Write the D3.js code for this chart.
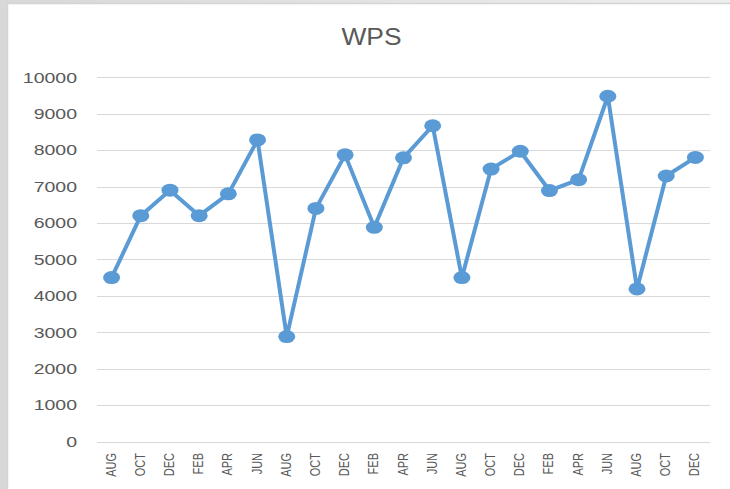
<!DOCTYPE html>
<html><head><meta charset="utf-8">
<script src="https://cdn.jsdelivr.net/npm/d3@7"></script>
<style>body{margin:0;background:#fff}svg{display:block}</style>
</head><body>
<script>
const categories = ["AUG","OCT","DEC","FEB","APR","JUN","AUG","OCT","DEC","FEB","APR","JUN","AUG","OCT","DEC","FEB","APR","JUN","AUG","OCT","DEC"];
const values = [4500,6200,6900,6200,6800,8280,2880,6400,7870,5880,7790,8670,4500,7480,7970,6890,7190,9480,4190,7290,7800];
const yTicks = [0,1000,2000,3000,4000,5000,6000,7000,8000,9000,10000];
const title = "WPS";

const W = 730, H = 489;
const svg = d3.select("body").append("svg").attr("width", W).attr("height", H);

// background frame
const defs = svg.append("defs");
const g1 = defs.append("linearGradient").attr("id","lg").attr("x1","0").attr("x2","1");
g1.append("stop").attr("offset","0").attr("stop-color","#d8d8d8");
g1.append("stop").attr("offset","1").attr("stop-color","#eeeeee");
svg.append("rect").attr("width", W).attr("height", H).attr("fill", "url(#lg)");
svg.append("rect").attr("x", 7.5).attr("y", 3.5).attr("width", W).attr("height", H)
  .attr("fill", "#fff").attr("stroke", "#d4d4d4").attr("stroke-width", 1.5);

const x = d3.scaleBand().domain(d3.range(categories.length)).range([97, 710]).padding(0);
const y = d3.scaleLinear().domain([0, 10000]).range([441.5, 77.3]);

// gridlines
svg.append("g").selectAll("line").data(yTicks).join("line")
  .attr("x1", 97).attr("x2", 710)
  .attr("y1", d => Math.round(y(d)) + 0.5).attr("y2", d => Math.round(y(d)) + 0.5)
  .attr("stroke", "#d9d9d9").attr("stroke-width", 1);

// y labels (horizontally stretched like the reference)
svg.append("g").selectAll("text").data(yTicks).join("text")
  .attr("transform", d => `translate(77,${y(d) + 5.3}) scale(1.3,1)`)
  .attr("text-anchor", "end")
  .attr("font-family", "Liberation Sans, Arial, sans-serif")
  .attr("font-size", 15).attr("fill", "#595959")
  .text(d => d);

// x labels
svg.append("g").selectAll("text").data(categories).join("text")
  .attr("transform", (d, i) => `translate(${x(i) + x.bandwidth() / 2 + 4},453) rotate(-90) scale(1,1.25)`)
  .attr("text-anchor", "end")
  .attr("font-family", "Liberation Sans, Arial, sans-serif")
  .attr("font-size", 11).attr("fill", "#595959")
  .text(d => d);

// title
svg.append("text")
  .attr("transform", "translate(371.5,45) scale(1.1,1)")
  .attr("text-anchor", "middle")
  .attr("font-family", "Liberation Sans, Arial, sans-serif")
  .attr("font-size", 24).attr("fill", "#595959")
  .text(title);

// line
const cx = i => x(i) + x.bandwidth() / 2;
svg.append("path").datum(values)
  .attr("d", d3.line().x((d, i) => cx(i)).y(d => y(d)))
  .attr("fill", "none").attr("stroke", "#5B9BD5").attr("stroke-width", 4)
  .attr("stroke-linejoin", "round");

svg.append("g").selectAll("ellipse").data(values).join("ellipse")
  .attr("cx", (d, i) => cx(i)).attr("cy", d => y(d))
  .attr("rx", 8.5).attr("ry", 6.5)
  .attr("fill", "#5B9BD5");
</script>
</body></html>
